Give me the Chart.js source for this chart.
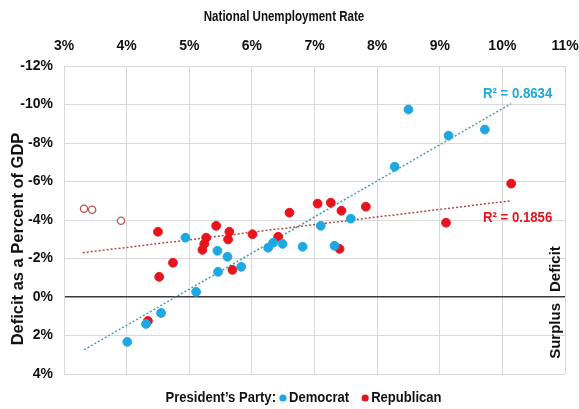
<!DOCTYPE html>
<html>
<head>
<meta charset="utf-8">
<script src="https://cdn.jsdelivr.net/npm/chart.js@4.4.1/dist/chart.umd.min.js"></script>
<style>
  html, body { margin: 0; padding: 0; background: #fff; }
  canvas { display: block; }
</style>
</head>
<body>
<canvas id="deficitChart" width="579" height="409"></canvas>
<script>
// unemployment rate (%) and deficit as % of GDP (negative = deficit)
const demX = [4.01, 4.31, 4.55, 5.11, 4.94, 5.45, 5.61, 5.46, 5.83, 6.26, 6.34, 6.49, 6.81, 7.10, 7.58, 7.32, 8.28, 8.50, 9.14, 9.72];
const demY = [2.33, 1.40, 0.83, -0.27, -3.08, -2.40, -2.09, -1.31, -1.57, -2.56, -2.82, -2.76, -2.61, -3.70, -4.07, -2.66, -6.77, -9.74, -8.38, -8.70];
const repX = [4.50, 4.74, 4.52, 5.43, 5.27, 5.24, 5.21, 5.64, 5.62, 6.01, 5.69, 6.42, 6.60, 7.05, 7.26, 7.43, 7.82, 7.40, 9.10, 10.14, 4.34];
const repY = [-3.39, -1.78, -1.05, -3.70, -3.08, -2.76, -2.45, -3.39, -2.99, -3.26, -1.41, -3.13, -4.38, -4.85, -4.90, -4.48, -4.69, -2.50, -3.86, -5.89, 1.24];
// hollow red circles (early years)
const earlyX = [3.32, 3.45, 3.91];
const earlyY = [-4.59, -4.53, -3.96];

// trend line end points
const demTrendX = [3.32, 10.14];
const demTrendY = [2.75, -10.05];
const repTrendX = [3.30, 10.14];
const repTrendY = [-2.30, -5.00];

const xTicks = [3, 4, 5, 6, 7, 8, 9, 10, 11];
const yTicks = [-12, -10, -8, -6, -4, -2, 0, 2, 4];

const demR2 = 'R² = 0.8634';
const repR2 = 'R² = 0.1856';

const BLUE = '#1ea7e1';
const RED = '#e8131b';
const SANS = '"Liberation Sans", Arial, sans-serif';

const toPoints = (xs, ys) => xs.map((x, i) => ({ x: x, y: ys[i] }));

// draw text squeezed horizontally (the original uses a narrow face)
function narrowText(ctx, text, x, y, sx, align) {
    ctx.save();
    ctx.translate(x, y);
    ctx.scale(sx, 1);
    ctx.textAlign = align || 'left';
    ctx.fillText(text, 0, 0);
    ctx.restore();
}

// titles, R² labels, Deficit / Surplus, legend
const annotations = {
    id: 'annotations',
    afterDraw(chart) {
        const ctx = chart.ctx;
        const xs = chart.scales.x;
        const ys = chart.scales.y;
        const area = chart.chartArea;
        ctx.save();
        ctx.textBaseline = 'middle';

        // axis titles
        ctx.fillStyle = '#111';
        ctx.font = 'bold 15px ' + SANS;
        narrowText(ctx, 'National Unemployment Rate', 284, 17, 0.77, 'center');
        ctx.save();
        ctx.translate(18, 239);
        ctx.rotate(-Math.PI / 2);
        ctx.font = 'bold 16.5px ' + SANS;
        ctx.textAlign = 'center';
        ctx.fillText('Deficit as a Percent of GDP', 0, 0);
        ctx.restore();

        // R² labels
        ctx.font = 'bold 15px ' + SANS;
        ctx.fillStyle = BLUE;
        narrowText(ctx, demR2, xs.getPixelForValue(9.69), ys.getPixelForValue(-10.55), 0.88);
        ctx.fillStyle = RED;
        narrowText(ctx, repR2, xs.getPixelForValue(9.69), ys.getPixelForValue(-4.12), 0.88);

        // Deficit / Surplus along the right edge
        const zeroY = ys.getPixelForValue(0);
        ctx.fillStyle = '#111';
        ctx.font = 'bold 15px ' + SANS;
        ctx.save();
        ctx.translate(area.right - 9, zeroY - 5);
        ctx.rotate(-Math.PI / 2);
        ctx.textAlign = 'left';
        ctx.fillText('Deficit', 0, 0);
        ctx.restore();
        ctx.save();
        ctx.translate(area.right - 9, zeroY + 6);
        ctx.rotate(-Math.PI / 2);
        ctx.textAlign = 'right';
        ctx.fillText('Surplus', 0, 0);
        ctx.restore();

        // legend
        const sx = 0.87;
        ctx.font = 'bold 15px ' + SANS;
        const prefix = "President’s Party:";
        const items = [['Democrat', BLUE], ['Republican', RED]];
        const w = t => ctx.measureText(t).width * sx;
        const pre = 7, dot = 6, gap = 16;
        let total = w(prefix);
        items.forEach((it, i) => {
            total += pre + dot + w(it[0]) + (i < items.length - 1 ? gap : 0);
        });
        let lx = 307 - total / 2;
        const ly = 398;
        ctx.fillStyle = '#111';
        narrowText(ctx, prefix, lx, ly, sx);
        lx += w(prefix) + pre;
        items.forEach(it => {
            ctx.fillStyle = it[1];
            ctx.beginPath();
            ctx.arc(lx, ly, 3.6, 0, Math.PI * 2);
            ctx.fill();
            lx += dot;
            ctx.fillStyle = '#111';
            narrowText(ctx, it[0], lx, ly, sx);
            lx += w(it[0]) + gap;
        });
        ctx.restore();
    }
};

new Chart(document.getElementById('deficitChart'), {
    type: 'scatter',
    data: {
        datasets: [
            {
                label: 'Democrat',
                data: toPoints(demX, demY),
                backgroundColor: BLUE,
                borderColor: BLUE,
                pointRadius: 4.4,
                order: 0
            },
            {
                label: 'Republican',
                data: toPoints(repX, repY),
                backgroundColor: RED,
                borderColor: RED,
                pointRadius: 4.4,
                order: 1
            },
            {
                label: 'Republican (early)',
                data: toPoints(earlyX, earlyY),
                backgroundColor: '#fff',
                borderColor: '#c0504d',
                borderWidth: 1.3,
                pointRadius: 3.6,
                order: 1
            },
            {
                type: 'line',
                label: 'Democrat trend',
                data: toPoints(demTrendX, demTrendY),
                borderColor: '#3aa6b9',
                borderWidth: 1.5,
                borderDash: [2, 2],
                pointRadius: 0,
                order: 3
            },
            {
                type: 'line',
                label: 'Republican trend',
                data: toPoints(repTrendX, repTrendY),
                borderColor: '#b04a4a',
                borderWidth: 1.5,
                borderDash: [2, 2],
                pointRadius: 0,
                order: 3
            }
        ]
    },
    options: {
        responsive: false,
        animation: false,
        layout: { padding: { top: 0, left: 0, right: 14, bottom: 35 } },
        plugins: {
            legend: { display: false },
            tooltip: { enabled: false }
        },
        scales: {
            x: {
                type: 'linear',
                position: 'top',
                min: 3,
                max: 11,
                afterBuildTicks: s => { s.ticks = xTicks.map(v => ({ value: v })); },
                afterFit: s => { s.height = 66; s.paddingLeft = 0; s.paddingRight = 0; },
                grid: { color: '#d9d9d9', drawTicks: false },
                border: { display: false },
                ticks: {
                    padding: 11,
                    color: '#111',
                    font: { family: SANS, size: 14, weight: 'bold' },
                    callback: v => v + '%'
                }
            },
            y: {
                type: 'linear',
                reverse: true,
                min: -12,
                max: 4,
                afterBuildTicks: s => { s.ticks = yTicks.map(v => ({ value: v })); },
                afterFit: s => { s.width = 64; s.paddingTop = 0; s.paddingBottom = 0; },
                grid: {
                    color: c => c.tick && c.tick.value === 0 ? '#3a3a3a' : '#d9d9d9',
                    lineWidth: c => c.tick && c.tick.value === 0 ? 1.5 : 1,
                    drawTicks: false
                },
                border: { display: true, color: '#d9d9d9' },
                ticks: {
                    padding: 11,
                    color: '#111',
                    font: { family: SANS, size: 14, weight: 'bold' },
                    callback: v => v + '%'
                }
            }
        }
    },
    plugins: [annotations]
});
</script>
</body>
</html>
